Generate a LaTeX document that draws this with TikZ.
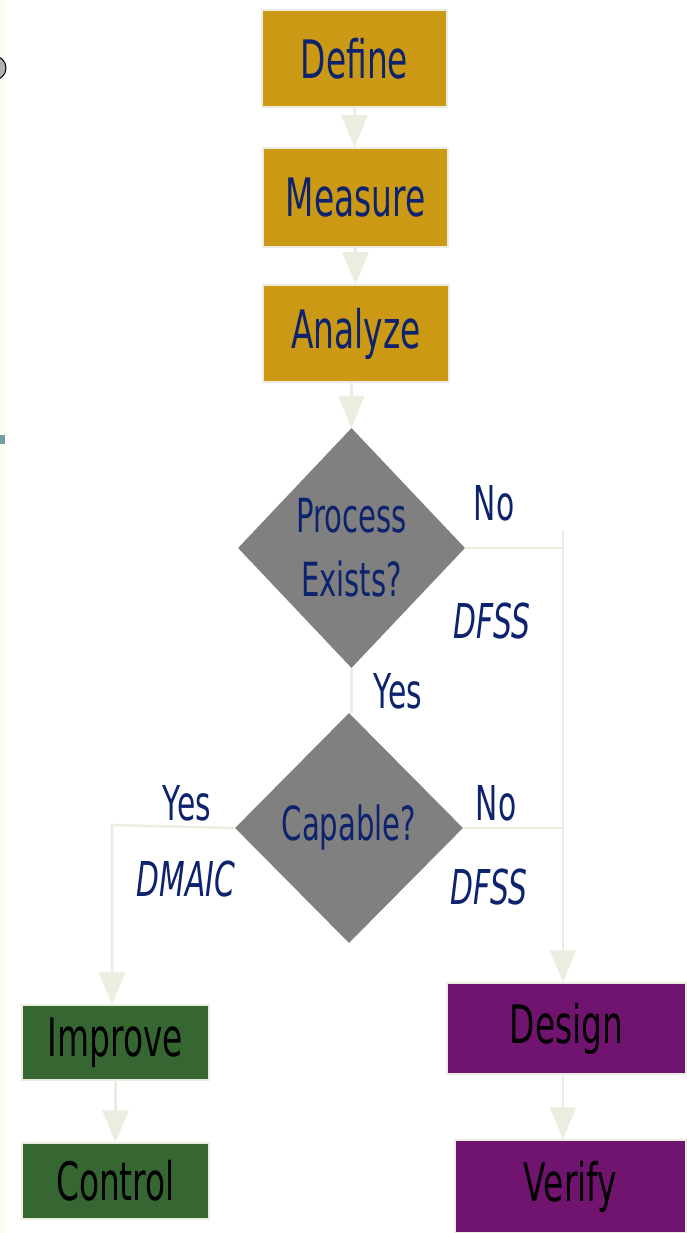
\documentclass[tikz,border=0pt]{standalone}
\usepackage{fontspec}
\setmainfont{DejaVu Sans}
\usepackage{graphicx}
\usetikzlibrary{shapes.geometric}
\usetikzlibrary{arrows.meta, positioning}

\definecolor{gold}{RGB}{204,153,20}
\definecolor{navy}{RGB}{14,35,110}
\definecolor{cream}{RGB}{236,236,224}
\definecolor{leafgreen}{RGB}{54,103,51}
\definecolor{plum}{RGB}{112,20,112}
\definecolor{stone}{RGB}{128,128,128}
\definecolor{edgecream}{RGB}{253,251,243}
\definecolor{edgeteal}{RGB}{112,160,160}

% testo stretto
\newcommand{\sq}[1]{\scalebox{0.62}[1]{#1}}

\tikzset{
  phase/.style={draw=cream, line width=1.5pt, inner sep=0pt,
    font=\fontsize{53}{60}\selectfont},
  dmaicbox/.style={phase, fill=gold, text=navy},
  leanbox/.style={phase, fill=leafgreen, text=black},
  dfssbox/.style={phase, fill=plum, text=black},
  choice/.style={diamond, fill=stone, inner sep=0pt, text=navy, align=center,
    font=\fontsize{47}{64}\selectfont},
  tag/.style={text=navy, inner sep=0pt, font=\fontsize{48}{54}\selectfont},
  line/.style={draw=cream, line width=2.5pt},
  conn/.style={line, -{Triangle[width=26pt,length=32pt]}}
}

\begin{document}
\begin{tikzpicture}[x=1pt, y=-1pt]
  \def\rx{563}   % <-- colonna destra
  \def\lx{112}   % <-- colonna sinistra

  \useasboundingbox (0,0) rectangle (686,1233);
  \fill[white] (0,0) rectangle (686,1233);

  % bordo della slide
  \fill[edgecream] (0,0) rectangle (5,1233);
  \filldraw[fill=gray!60, draw=black, line width=1pt] (-6,68) circle (12);
  \fill[edgeteal] (0,435) rectangle (5,444);

  % fasi comuni
  \node[dmaicbox, minimum width=185, minimum height=97] (define) at (354.5,58.5) {\sq{Define}};
  \node[dmaicbox, minimum width=185, minimum height=99] (measure) at (355.5,197.5) {\sq{Measure}};
  \node[dmaicbox, minimum width=186, minimum height=97] (analyze) at (356,333.5) {\sq{Analyze}};

  % decisioni
  \node[choice, minimum width=227, minimum height=240] (exists) at (351.5,548) {\sq{Process}\\\sq{Exists?}};
  \node[choice, minimum width=228, minimum height=230] (capable) at (349,828) {\sq{Capable?}};

  % rami finali
  \node[leanbox, minimum width=187, minimum height=75] (improve) at (115.5,1042.5) {\sq{Improve}};
  \node[leanbox, minimum width=187, minimum height=76] (control) at (115.5,1181) {\sq{Control}};
  \node[dfssbox, minimum width=239, minimum height=91] (design) at (566.5,1028.5) {\sq{Design}};
  \node[dfssbox, minimum width=231, minimum height=93] (verify) at (570.5,1186.5) {\sq{Verify}};

  % punti di raccordo
  \coordinate (rjoin) at (\rx,530);
  \coordinate (ljoin) at (\lx,825);

  % frecce verticali
  \draw[conn] (define.south) -- (define.south |- measure.north);
  \draw[conn] (measure.south) -- (measure.south |- analyze.north);
  \draw[conn] (exists.north |- analyze.south) -- (exists.north);
  \draw[line] (exists.south) -- (exists.south |- capable.north);
  \draw[conn] (improve.south) -- (improve.south |- control.north);
  \draw[conn] (design.south -| rjoin) -- (rjoin |- verify.north);

  % ramo DFSS
  \draw[line] (exists.east) -- (exists.east -| rjoin);
  \draw[line] (capable.east) -- (capable.east -| rjoin);
  \draw[conn] (rjoin) -- (rjoin |- design.north);

  % ramo DMAIC
  \draw[conn] (capable.west) -- (ljoin) -- (ljoin |- improve.north);

  % etichette
  \node[tag] (no1) at (494,503) {\sq{No}};
  \node[tag] (dfss1) at (492,621) {\sq{\itshape DFSS}};
  \node[tag] (yes1) at (398,691) {\sq{Yes}};
  \node[tag] (no2) at (496,803) {\sq{No}};
  \node[tag] (dfss2) at (489,887) {\sq{\itshape DFSS}};
  \node[tag] (yes2) at (187,803) {\sq{Yes}};
  \node[tag] (dmaic) at (186,879) {\sq{\itshape DMAIC}};
\end{tikzpicture}
\end{document}
